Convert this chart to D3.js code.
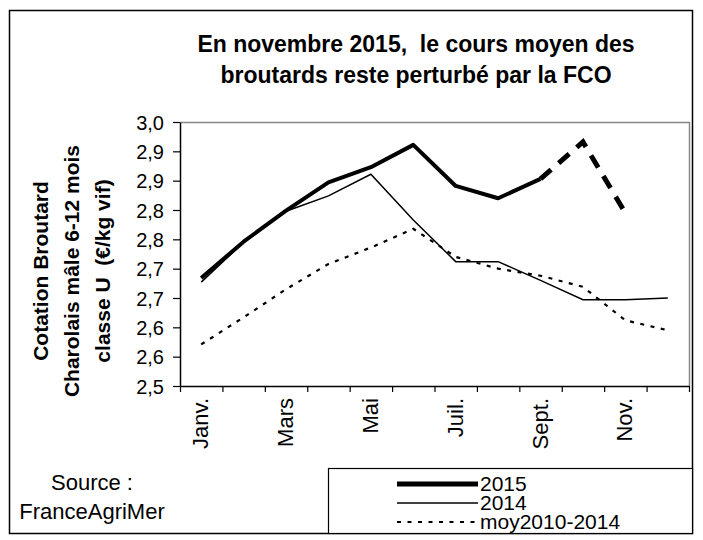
<!DOCTYPE html>
<html lang="fr">
    <head>
        <meta charset="utf-8">
        <title>Cours moyen des broutards</title>
        <script type="text/javascript" src="https://cdn.jsdelivr.net/npm/d3@7/dist/d3.min.js"></script>
        <style>
            body { margin: 0; background: #fff; }
            text { font-family: "Liberation Sans", Arial, sans-serif; fill: #000; white-space: pre; }
        </style>
    </head>
    <body>
        <div id="chart"></div>
        <script type="text/javascript">
            //size of the page
            var w = 703;
            var h = 540;

            //data
            var months = ["Janv.", "Févr.", "Mars", "Avril", "Mai", "Juin",
                          "Juil.", "Août", "Sept.", "Oct.", "Nov.", "Déc."];
            var shownMonths = ["Janv.", "Mars", "Mai", "Juil.", "Sept.", "Nov."];
            var values2015 = [2.684, 2.746, 2.799, 2.847, 2.873, 2.911, 2.841, 2.820, 2.853, 2.916, 2.795];
            var values2014 = [2.677, 2.745, 2.798, 2.824, 2.861, 2.783, 2.712, 2.712, 2.680, 2.647, 2.647, 2.650];
            var valuesMoy = [2.571, 2.617, 2.665, 2.708, 2.736, 2.768, 2.720, 2.700, 2.688, 2.669, 2.612, 2.595];
            var solidUntil = 8; //2015 is solid up to Sept., dashed after
            var yTickValues = [2.5, 2.55, 2.6, 2.65, 2.7, 2.75, 2.8, 2.85, 2.9, 2.95];
            var yTickLabels = ["2,5", "2,6", "2,6", "2,7", "2,7", "2,8", "2,8", "2,9", "2,9", "3,0"];
            var titleLines = ["En novembre 2015,  le cours moyen des", "broutards reste perturbé par la FCO"];
            var yTitleLines = ["Cotation Broutard", "Charolais mâle 6-12 mois", "classe U  (€/kg vif)"];
            var sourceLines = ["Source :", "FranceAgriMer"];
            var legendNames = ["2015", "2014", "moy2010-2014"];

            //plot area (don't call it "top", that's window.top)
            var pLeft = 180, pRight = 689, pTop = 122, pBottom = 386;

            var svg = d3.select("#chart").append("svg").attr("width", w).attr("height", h);

            //outer frame
            svg.append("rect")
                .attr("x", 9.5).attr("y", 10.5)
                .attr("width", 683).attr("height", 523)
                .attr("fill", "none").attr("stroke", "#000").attr("stroke-width", 1.5);

            var x = d3.scaleBand().domain(months).range([pLeft, pRight]);
            var xEdge = d3.scaleLinear().domain([0, months.length]).range([pLeft, pRight]);
            var y = d3.scaleLinear().domain([2.5, 2.95]).range([pBottom, pTop]);

            //top and right border of the plot area
            svg.append("path")
                .attr("d", "M" + pLeft + "," + (pTop + 0.5) + "H" + (pRight + 0.5) + "V" + pBottom)
                .attr("fill", "none").attr("stroke", "#888").attr("stroke-width", 1.5);

            //y axis
            var yAxis = svg.append("g")
                .attr("transform", "translate(" + pLeft + ",0)")
                .call(d3.axisLeft(y)
                    .tickValues(yTickValues)
                    .tickFormat(function(d, i) { return yTickLabels[i]; })
                    .tickSize(7)
                    .tickSizeOuter(0));
            yAxis.selectAll("text")
                .attr("font-size", "20px")
                .attr("x", -16)
                .attr("dy", "0.35em")
                .attr("font-family", "Liberation Sans, Arial, sans-serif");

            //x axis, ticks between the months
            var xAxis = svg.append("g")
                .attr("transform", "translate(0," + pBottom + ")")
                .call(d3.axisBottom(xEdge)
                    .ticks(months.length)
                    .tickFormat("")
                    .tickSize(6)
                    .tickSizeOuter(0));
            svg.selectAll(".domain").attr("stroke", "#000").attr("stroke-width", 1.5);
            svg.selectAll(".tick line").attr("stroke", "#000").attr("stroke-width", 1.2);

            svg.selectAll("text.month")
                .data(shownMonths)
                .enter()
                .append("text")
                .attr("class", "month")
                .text(function(d) { return d; })
                .attr("transform", function(d) {
                    return "translate(" + (x(d) + x.bandwidth() / 2 + 7) + "," + (pBottom + 12) + ") rotate(-90)";
                })
                .attr("text-anchor", "end")
                .attr("font-size", "22px");

            //lines
            var line = d3.line()
                .x(function(d) { return x(d.m) + x.bandwidth() / 2; })
                .y(function(d) { return y(d.v); });

            function points(vals) {
                return vals.map(function(v, i) { return {m: months[i], v: v}; });
            }

            svg.append("path")
                .attr("d", line(points(valuesMoy)))
                .attr("fill", "none").attr("stroke", "#000").attr("stroke-width", 2.2)
                .attr("stroke-dasharray", "4,6.5");

            svg.append("path")
                .attr("d", line(points(values2014)))
                .attr("fill", "none").attr("stroke", "#000").attr("stroke-width", 1.5);

            var p2015 = points(values2015);
            svg.append("path")
                .attr("d", line(p2015.slice(0, solidUntil + 1)))
                .attr("fill", "none").attr("stroke", "#000").attr("stroke-width", 4)
                .attr("stroke-linejoin", "round");
            svg.append("path")
                .attr("d", line(p2015.slice(solidUntil)))
                .attr("fill", "none").attr("stroke", "#000").attr("stroke-width", 5)
                .attr("stroke-dasharray", "14,10");

            //title
            svg.selectAll("text.title")
                .data(titleLines)
                .enter()
                .append("text")
                .attr("class", "title")
                .text(function(d) { return d; })
                .attr("x", 416)
                .attr("y", function(d, i) { return 52 + i * 31; })
                .attr("text-anchor", "middle")
                .attr("font-size", "23px")
                .attr("font-weight", "bold");

            //y axis title
            svg.selectAll("text.ytitle")
                .data(yTitleLines)
                .enter()
                .append("text")
                .attr("class", "ytitle")
                .text(function(d) { return d; })
                .attr("transform", function(d, i) {
                    return "translate(" + (48 + i * 31) + ",271) rotate(-90)";
                })
                .attr("text-anchor", "middle")
                .attr("font-size", "21px")
                .attr("font-weight", "bold");

            //source
            svg.selectAll("text.source")
                .data(sourceLines)
                .enter()
                .append("text")
                .attr("class", "source")
                .text(function(d) { return d; })
                .attr("x", 92)
                .attr("y", function(d, i) { return 490 + i * 29; })
                .attr("text-anchor", "middle")
                .attr("font-size", "22px");

            //legend
            var legend = svg.append("g");
            legend.append("rect")
                .attr("x", 328.5).attr("y", 468.5)
                .attr("width", 364).attr("height", 65)
                .attr("fill", "#fff").attr("stroke", "#000").attr("stroke-width", 1.2);
            var legendWidths = [5, 1.5, 2];
            var legendDash = [null, null, "4,6.5"];
            var rows = legend.selectAll("g.row")
                .data(legendNames)
                .enter()
                .append("g")
                .attr("class", "row")
                .attr("transform", function(d, i) { return "translate(0," + (484 + i * 19) + ")"; });
            rows.append("line")
                .attr("x1", 397).attr("x2", 478)
                .attr("stroke", "#000")
                .attr("stroke-width", function(d, i) { return legendWidths[i]; })
                .attr("stroke-dasharray", function(d, i) { return legendDash[i]; });
            rows.append("text")
                .text(function(d) { return d; })
                .attr("x", 480)
                .attr("dy", "0.35em")
                .attr("font-size", "21px");
        </script>
    </body>
</html>
